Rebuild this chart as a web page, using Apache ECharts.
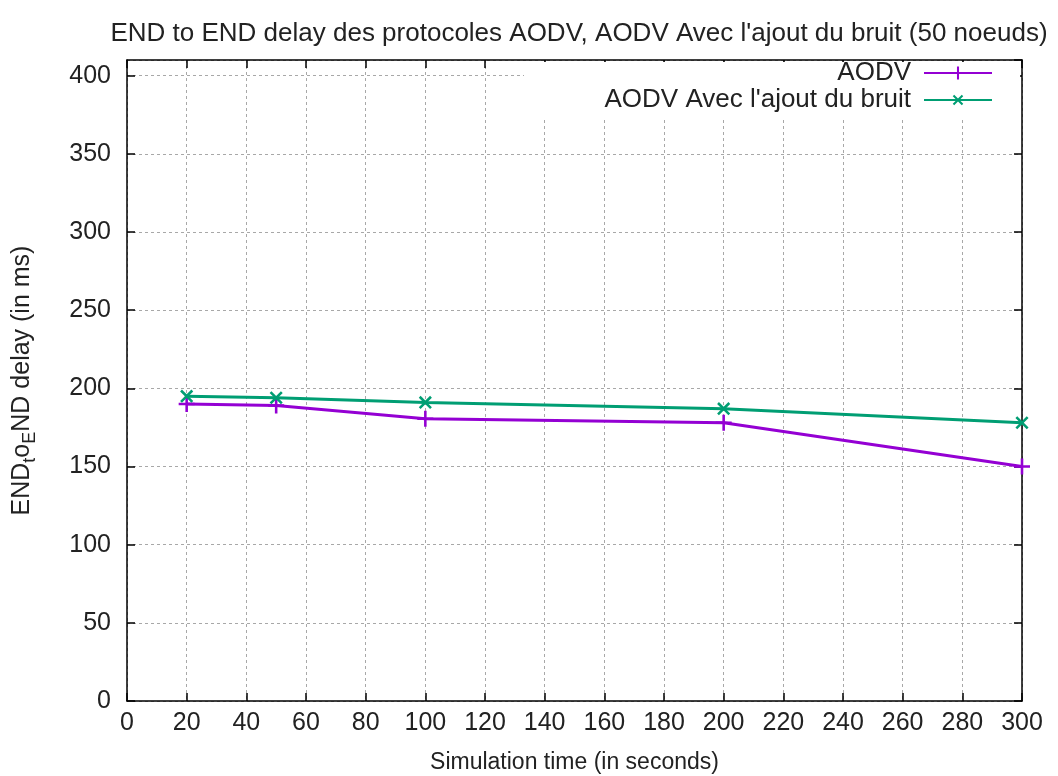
<!DOCTYPE html>
<html>
<head>
<meta charset="utf-8">
<script src="https://cdn.jsdelivr.net/npm/echarts@6/dist/echarts.min.js"></script>
<style>
html,body{margin:0;padding:0;background:#fff;}
#chart{width:1058px;height:776px;}
</style>
</head>
<body>
<div id="chart"></div>
<script>
var simTimes = [20, 50, 100, 200, 300];
var aodv = [190, 189, 180.5, 178, 150];
var aodvBruit = [195, 194, 191, 187, 178];
var xTicks = [0, 20, 40, 60, 80, 100, 120, 140, 160, 180, 200, 220, 240, 260, 280, 300];
var yTicks = [0, 50, 100, 150, 200, 250, 300, 350, 400];

var FONT = 'Liberation Sans, Arial, sans-serif';
var plusPath = 'path://M4.2,0H5.8V4.2H10V5.8H5.8V10H4.2V5.8H0V4.2H4.2Z';

function pairs(xs, ys) { return xs.map(function (x, i) { return [x, ys[i]]; }); }

var chart = echarts.init(document.getElementById('chart'), null, {renderer: 'canvas'});
var gridLine = {show: true, lineStyle: {color: '#a8a8a8', width: 1, type: [3, 3]}};
var axisL = {show: true, onZero: false, lineStyle: {color: '#000', width: 1.5}};
var tickS = {show: true, inside: true, length: 8, lineStyle: {color: '#000', width: 1.5}};

chart.setOption({
  backgroundColor: '#fff',
  animation: false,
  title: {
    text: "END to END delay des protocoles AODV, AODV Avec l'ajout du bruit (50 noeuds)",
    left: 574, top: 16, textAlign: 'center',
    textStyle: {fontFamily: FONT, fontSize: 26, fontWeight: 'normal', color: '#222'}
  },
  grid: {left: 127, right: 36, top: 60, bottom: 75, outerBoundsMode: 'none', containLabel: false},
  graphic: [{
    type: 'rect', z: 3,
    shape: {x: 524, y: 62, width: 496, height: 56},
    style: {fill: '#fff'}
  }],
  legend: [{
    data: ['AODV'], orient: 'vertical', right: 65, top: 60, align: 'right', padding: 0,
    itemWidth: 68, itemHeight: 16, itemGap: 4, z: 5,
    textStyle: {fontFamily: FONT, fontSize: 26, color: '#222', padding: [0, 8, 0, 0]}
  }, {
    data: ["AODV Avec l'ajout du bruit"], orient: 'vertical', right: 65, top: 87, align: 'right', padding: 0,
    itemWidth: 68, itemHeight: 16, itemGap: 4, z: 5,
    textStyle: {fontFamily: FONT, fontSize: 26, color: '#222', padding: [0, 8, 0, 0]}
  }],
  xAxis: [{
    type: 'value', min: xTicks[0], max: xTicks[xTicks.length - 1], interval: 20,
    position: 'bottom',
    name: 'Simulation time (in seconds)', nameLocation: 'middle', nameGap: 50,
    nameTextStyle: {fontFamily: FONT, fontSize: 23, color: '#222'},
    axisLine: axisL, axisTick: tickS, splitLine: gridLine,
    axisLabel: {fontFamily: FONT, fontSize: 25, color: '#222', margin: 10}
  }, {
    type: 'value', min: xTicks[0], max: xTicks[xTicks.length - 1], interval: 20,
    position: 'top',
    axisLine: axisL, axisTick: tickS, splitLine: {show: false}, axisLabel: {show: false}
  }],
  yAxis: [{
    type: 'value', min: yTicks[0], max: 410, interval: 50,
    position: 'left',
    name: '{n|END}{s|t}{n|o}{s|E}{n|ND delay (in ms)}', nameLocation: 'middle', nameGap: 88,
    nameTextStyle: {fontFamily: FONT, fontSize: 25, color: '#222',
      rich: {
        n: {fontFamily: FONT, fontSize: 25, color: '#222', lineHeight: 34, verticalAlign: 'middle'},
        s: {fontFamily: FONT, fontSize: 18, color: '#222', lineHeight: 34, verticalAlign: 'bottom'}
      }},
    axisLine: axisL, axisTick: tickS, splitLine: gridLine,
    axisLabel: {fontFamily: FONT, fontSize: 25, color: '#222', margin: 16, showMaxLabel: false}
  }, {
    type: 'value', min: yTicks[0], max: 410, interval: 50,
    position: 'right',
    axisLine: axisL, axisTick: tickS, splitLine: {show: false}, axisLabel: {show: false}
  }],
  series: [{
    name: 'AODV', type: 'line', xAxisIndex: 0, yAxisIndex: 0,
    data: pairs(simTimes, aodv),
    symbol: plusPath, symbolSize: 16, showAllSymbol: true,
    lineStyle: {color: '#9400d3', width: 3},
    itemStyle: {color: '#9400d3'}, z: 6
  }, {
    name: "AODV Avec l'ajout du bruit", type: 'line', xAxisIndex: 0, yAxisIndex: 0,
    data: pairs(simTimes, aodvBruit),
    symbol: plusPath, symbolSize: 16, symbolRotate: 45, showAllSymbol: true,
    lineStyle: {color: '#009e73', width: 3},
    itemStyle: {color: '#009e73'}, z: 6
  }]
});
</script>
</body>
</html>
